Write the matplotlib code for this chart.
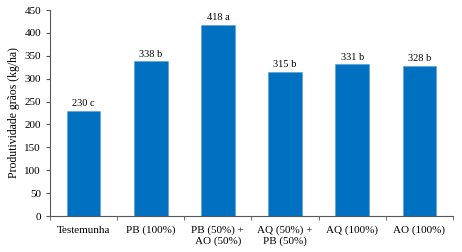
import numpy as np
import matplotlib.pyplot as plt

categorias = ["Testemunha", "PB (100%)", "PB (50%) +\nAO (50%)",
              "AQ (50%) +\nPB (50%)", "AQ (100%)", "AO (100%)"]
produtividade = [230, 338, 418, 315, 331, 328]
letras = ["c", "b", "a", "b", "b", "b"]

plt.rcParams['font.family'] = ['Liberation Serif', 'DejaVu Serif']

fig = plt.figure(figsize=(4.62, 2.52), dpi=100)
ax = fig.add_axes([50/462, 1 - 216/252, (453 - 50)/462, (216 - 10)/252])

x = np.arange(len(categorias))
bars = ax.bar(x, produtividade, width=0.5, color="#0070C0", edgecolor="#5B9BD5", linewidth=0.4)

for xi, v, l in zip(x, produtividade, letras):
    ax.text(xi, v + 6, f"{v} {l}", ha="center", va="bottom", fontsize=7.5)

ax.set_xlim(-0.5, len(categorias) - 0.5)
ax.set_ylim(0, 450)
ax.set_yticks(np.arange(0, 451, 50))
ax.set_xticks(x)
ax.set_xticklabels(categorias, fontsize=8)
ax.set_xticks(np.arange(-0.5, len(categorias)), minor=True)
ax.tick_params(axis="x", which="major", length=0, pad=7)
ax.tick_params(axis="x", which="minor", length=3, direction="out", color="#595959")
ax.tick_params(axis="y", length=3, direction="out", labelsize=8, color="#595959")
for lbl in ax.get_xticklabels():
    lbl.set_linespacing(1.1)

ax.set_ylabel("Produtividade grãos (kg/ha)", fontsize=8.5, labelpad=3)
ax.spines["top"].set_visible(False)
ax.spines["right"].set_visible(False)
ax.spines["left"].set_color("#595959")
ax.spines["bottom"].set_color("#595959")

fig.savefig("out.png", dpi=100)
